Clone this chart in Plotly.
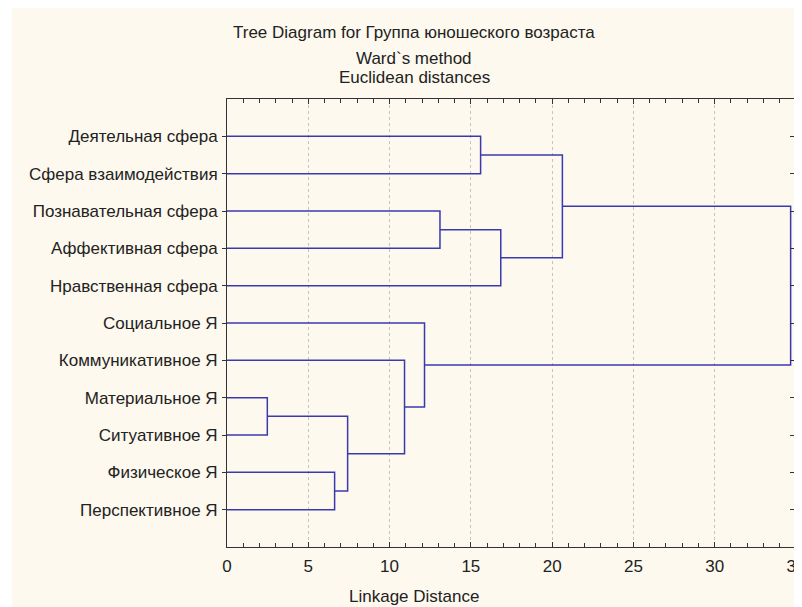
import plotly.graph_objects as go

# ---- data ----
leaves = [
    "Деятельная сфера",
    "Сфера взаимодействия",
    "Познавательная сфера",
    "Аффективная сфера",
    "Нравственная сфера",
    "Социальное Я",
    "Коммуникативное Я",
    "Материальное Я",
    "Ситуативное Я",
    "Физическое Я",
    "Перспективное Я",
]
# merges: (child_a, child_b, linkage distance); children are leaf indices or "m<k>" merge ids
merge_a = [7, 9, "m0", 6, 5, 2, 0, "m5", "m6", "m8"]
merge_b = [8, 10, "m1", "m2", "m3", 3, 1, 4, "m7", "m4"]
merge_h = [2.48, 6.62, 7.42, 10.92, 12.15, 13.1, 15.6, 16.84, 20.63, 34.67]

x_ticks = [0, 5, 10, 15, 20, 25, 30, 35]

# ---- build dendrogram segments from linkage ----
node_y, node_h = {}, {}
for i in range(len(leaves)):
    node_y[i] = i + 1
    node_h[i] = 0.0

xs, ys = [], []
for k, (a, b, h) in enumerate(zip(merge_a, merge_b, merge_h)):
    ya, yb = node_y[a], node_y[b]
    ha, hb = node_h[a], node_h[b]
    xs += [ha, h, h, hb, None]
    ys += [ya, ya, yb, yb, None]
    node_y["m%d" % k] = (ya + yb) / 2
    node_h["m%d" % k] = h

FONT = "Liberation Sans, Arial, sans-serif"
TXT = "#222222"
LINE = "#3a3aae"
FS = 17

fig = go.Figure()
fig.add_trace(go.Scatter(x=xs, y=ys, mode="lines",
                         line=dict(color=LINE, width=1.5),
                         hoverinfo="skip", showlegend=False))
fig.add_trace(go.Scatter(x=[0], y=[1], mode="markers", yaxis="y2",
                         marker=dict(opacity=0), hoverinfo="skip", showlegend=False))

# page body has an 8px margin; figure sized so plot area lands at 227..796 x 99..547
W, H = 794, 599
L, R, T, B = 219, 6, 91, 60
pw, ph = W - L - R, H - T - B

fig.update_layout(
    width=W, height=H, autosize=False,
    margin=dict(l=L, r=R, t=T, b=B, pad=0, autoexpand=False),
    paper_bgcolor="white", plot_bgcolor="white",
    font=dict(family=FONT, size=FS, color=TXT),
    xaxis=dict(range=[0, 35], tickvals=x_ticks, ticktext=[str(v) for v in x_ticks],
               ticks="inside", ticklen=5, tickcolor="#333", showline=True,
               linecolor="#333", linewidth=1, mirror="ticks", automargin=False,
               showgrid=True, gridcolor="#c4c4c4", griddash="dot", gridwidth=1,
               zeroline=False, ticklabelstandoff=4, ticklabeloverflow="allow",
               tickfont=dict(size=FS),
               minor=dict(dtick=1, ticks="inside", ticklen=4, tickcolor="#333", showgrid=False)),
    yaxis=dict(range=[12, 0], tickvals=list(range(1, len(leaves) + 1)), ticktext=leaves,
               ticks="outside", ticklen=4, tickcolor="#333", showline=True,
               linecolor="#333", linewidth=1, showgrid=False, zeroline=False,
               automargin=False, ticklabelstandoff=1, tickfont=dict(size=FS)),
    yaxis2=dict(range=[12, 0], overlaying="y", side="right", automargin=False,
                tickvals=list(range(1, len(leaves) + 1)), showticklabels=False,
                ticks="inside", ticklen=6, tickcolor="#333", showline=True,
                linecolor="#333", linewidth=1, showgrid=False, zeroline=False),
    shapes=[dict(type="rect", xref="paper", yref="paper", layer="below",
                 x0=(4 - L) / pw, x1=1.05, y0=-0.2, y1=1 + T / ph + 0.01,
                 fillcolor="#FDF9EE", line=dict(width=0))],
)

title_x = (406 - L) / pw
for text, shift in [("Tree Diagram for Группа юношеского возраста", 67),
                    ("Ward`s method", 41),
                    ("Euclidean distances", 22)]:
    fig.add_annotation(text=text, xref="paper", yref="paper", x=title_x, y=1,
                       xanchor="center", yanchor="middle", yshift=shift,
                       showarrow=False, font=dict(family=FONT, size=FS, color=TXT))
fig.add_annotation(text="Linkage Distance", xref="paper", yref="paper", x=title_x,
                   y=0, xanchor="center", yanchor="middle", yshift=-49,
                   showarrow=False, font=dict(family=FONT, size=FS, color=TXT))

fig.write_html("out.html")
